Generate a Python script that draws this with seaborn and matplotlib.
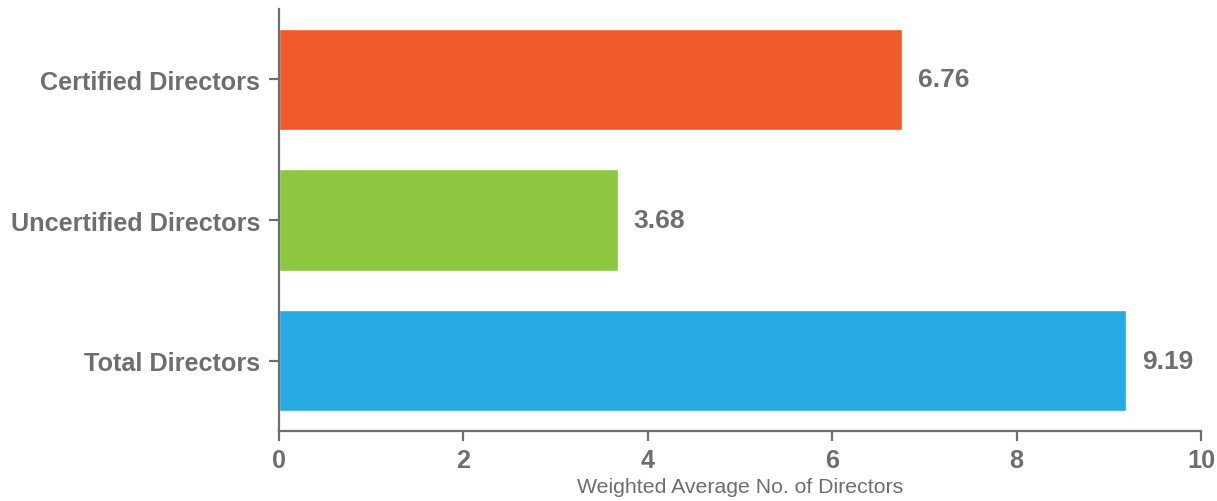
# directors_bar.py
'''Horizontal bar chart of weighted average number of directors'''

import matplotlib
matplotlib.use('Agg')
import matplotlib.pyplot as plt
import pandas as pd
import seaborn as sns

# data
categories = ['Certified Directors', 'Uncertified Directors', 'Total Directors']
values = [6.76, 3.68, 9.19]
colors = ['#F15A2B', '#8DC63F', '#27AAE1']
x_ticks = [0, 2, 4, 6, 8, 10]

gray = '#6D6E71'

sns.set_style('white')
plt.rcParams['font.family'] = ['Liberation Sans', 'DejaVu Sans']

df = pd.DataFrame({'category': categories, 'value': values})

fig = plt.figure(figsize=(12.17, 5.02), dpi=100)
ax = fig.add_axes([0.2293, 0.1394, 0.7576, 0.8406])

sns.barplot(data=df, x='value', y='category', hue='category',
            palette=colors, width=0.72, saturation=1, legend=False, ax=ax)

ax.set_xlim(0, 10)
ax.set_ylim(2.5, -0.5)
ax.set_xticks(x_ticks)

# value labels just past the end of each bar
for bar, value in zip(ax.patches, values):
    ax.annotate(f'{value:.2f}', (bar.get_width(), bar.get_y() + bar.get_height() / 2),
                xytext=(11, 0), textcoords='offset points', ha='left', va='center',
                fontsize=19, fontweight='bold', color=gray)

sns.despine(ax=ax)
for side in ['left', 'bottom']:
    ax.spines[side].set_color(gray)
    ax.spines[side].set_linewidth(1.6)

ax.tick_params(axis='both', bottom=True, left=True, colors=gray,
               length=7.5, width=1.6, labelsize=18.2)
ax.tick_params(axis='x', pad=5)
ax.tick_params(axis='y', pad=6)
for label in ax.get_xticklabels() + ax.get_yticklabels():
    label.set_fontweight('bold')

ax.set_ylabel('')
ax.set_xlabel('Weighted Average No. of Directors', fontsize=15.3, color=gray, labelpad=3)

fig.savefig('out.png', dpi=100)
